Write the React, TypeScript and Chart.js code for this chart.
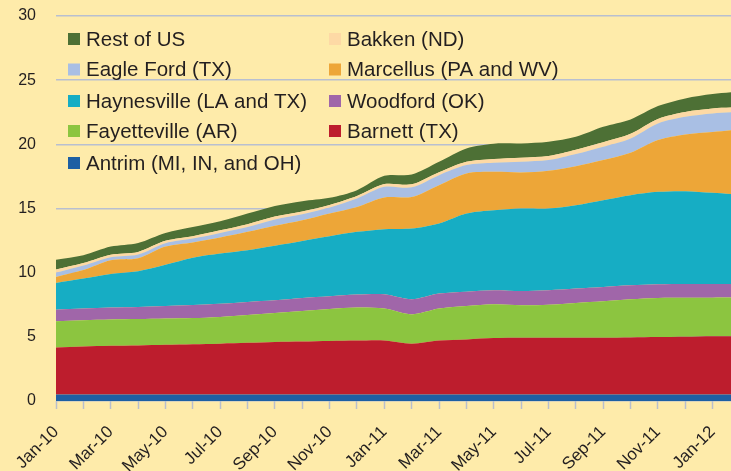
import { useEffect, useRef } from "react";
import { Chart, registerables } from "chart.js";

Chart.register(...registerables);

const months = [
  "Jan-10", "Feb-10", "Mar-10", "Apr-10", "May-10", "Jun-10", "Jul-10", "Aug-10", "Sep-10", "Oct-10", "Nov-10", "Dec-10",
  "Jan-11", "Feb-11", "Mar-11", "Apr-11", "May-11", "Jun-11", "Jul-11", "Aug-11", "Sep-11", "Oct-11", "Nov-11", "Dec-11",
  "Jan-12", "Feb-12",
];

const antrim = [0.5, 0.5, 0.5, 0.5, 0.5, 0.5, 0.5, 0.5, 0.5, 0.5, 0.5, 0.5, 0.5, 0.5, 0.5, 0.5, 0.5, 0.5, 0.5, 0.5, 0.5, 0.5, 0.5, 0.5, 0.5, 0.5];
const barnett = [3.67, 3.75, 3.8, 3.83, 3.88, 3.92, 3.97, 4.03, 4.1, 4.14, 4.18, 4.21, 4.22, 3.97, 4.22, 4.3, 4.4, 4.43, 4.43, 4.43, 4.43, 4.45, 4.48, 4.5, 4.54, 4.54];
const fayetteville = [2.05, 2.05, 2.05, 2.05, 2.04, 2.04, 2.08, 2.17, 2.26, 2.37, 2.49, 2.57, 2.48, 2.28, 2.48, 2.6, 2.63, 2.53, 2.57, 2.71, 2.84, 2.98, 3.05, 3.05, 3.01, 3.02];
const woodford = [0.9, 0.9, 0.93, 0.95, 0.98, 1.02, 1.03, 1.02, 0.99, 1.02, 0.99, 1.01, 1.12, 1.18, 1.17, 1.12, 1.1, 1.11, 1.13, 1.12, 1.12, 1.09, 1.07, 1.07, 1.07, 1.06];
const haynesville = [2.08, 2.34, 2.62, 2.79, 3.22, 3.69, 3.91, 4.03, 4.25, 4.44, 4.68, 4.89, 5.07, 5.51, 5.46, 6.09, 6.24, 6.43, 6.37, 6.5, 6.76, 7.02, 7.2, 7.23, 7.1, 6.95];
const marcellus = [0.47, 0.66, 1.07, 1.0, 1.41, 1.19, 1.25, 1.43, 1.56, 1.62, 1.77, 1.94, 2.47, 2.46, 2.99, 3.12, 2.99, 2.81, 2.94, 3.04, 3.12, 3.3, 4.03, 4.42, 4.75, 5.1];
const eagleFord = [0.33, 0.35, 0.23, 0.3, 0.27, 0.3, 0.36, 0.38, 0.49, 0.46, 0.47, 0.66, 0.83, 0.75, 0.78, 0.65, 0.7, 0.83, 0.83, 0.94, 1.04, 1.12, 1.3, 1.38, 1.44, 1.36];
const bakken = [0.25, 0.2, 0.2, 0.2, 0.18, 0.18, 0.2, 0.22, 0.22, 0.22, 0.2, 0.2, 0.21, 0.23, 0.22, 0.26, 0.3, 0.32, 0.32, 0.34, 0.35, 0.36, 0.35, 0.37, 0.38, 0.36];
const restOfUS = [0.75, 0.6, 0.63, 0.7, 0.62, 0.71, 0.71, 0.83, 0.83, 0.8, 0.55, 0.45, 0.65, 0.77, 0.82, 1.04, 1.19, 1.11, 1.11, 1.01, 1.21, 1.12, 1.0, 1.06, 1.13, 1.23];

const yTicks = [0, 5, 10, 15, 20, 25, 30];

// stacking order bottom -> top
const seriesNames = [
  "Antrim (MI, IN, and OH)",
  "Barnett (TX)",
  "Fayetteville (AR)",
  "Woodford (OK)",
  "Haynesville (LA and TX)",
  "Marcellus (PA and WV)",
  "Eagle Ford (TX)",
  "Bakken (ND)",
  "Rest of US",
];
const seriesValues = [antrim, barnett, fayetteville, woodford, haynesville, marcellus, eagleFord, bakken, restOfUS];
const seriesColors = ["#1d5fa3", "#bd1d2d", "#8cc540", "#a066a9", "#16adc4", "#eda638", "#a9bfe4", "#fdd9a5", "#4d7035"];

// legend order (row-major, two columns)
const legendOrder = [
  "Rest of US", "Bakken (ND)",
  "Eagle Ford (TX)", "Marcellus (PA and WV)",
  "Haynesville (LA and TX)", "Woodford (OK)",
  "Fayetteville (AR)", "Barnett (TX)",
  "Antrim (MI, IN, and OH)",
];

const BG = "#feebaa";
const FONT = "'Liberation Sans', Arial, Helvetica, sans-serif";

export default function App() {
  const ref = useRef<HTMLCanvasElement | null>(null);

  useEffect(() => {
    document.body.style.margin = "0";
    document.body.style.background = BG;
    if (!ref.current) return;

    const bgPlugin = {
      id: "bg",
      beforeDraw(chart: any) {
        const { ctx, width, height } = chart;
        ctx.save();
        ctx.fillStyle = BG;
        ctx.fillRect(0, 0, width, height);
        ctx.restore();
      },
    };

    const legendPlugin = {
      id: "customLegend",
      afterDatasetsDraw(chart: any) {
        const { ctx } = chart;
        ctx.save();
        ctx.font = `20.5px ${FONT}`;
        ctx.textBaseline = "middle";
        ctx.textAlign = "left";
        const colX = [68, 329];
        const rowY = [39, 69.5, 101, 131, 163];
        legendOrder.forEach((name, i) => {
          const col = i % 2;
          const row = Math.floor(i / 2);
          const idx = seriesNames.indexOf(name);
          const x = colX[col];
          const y = rowY[row];
          ctx.fillStyle = seriesColors[idx];
          ctx.fillRect(x, y - 6, 12, 12);
          ctx.fillStyle = "#231f20";
          ctx.fillText(name, x + 18, y + 1);
        });
        ctx.restore();
      },
    };

    const chart = new Chart(ref.current, {
      type: "line",
      data: {
        datasets: seriesValues.map((vals, si) => ({
          label: seriesNames[si],
          data: vals.map((v, i) => ({ x: i, y: v })),
          backgroundColor: seriesColors[si],
          borderColor: seriesColors[si],
          borderWidth: 0,
          pointRadius: 0,
          fill: si === 0 ? "origin" : "-1",
          tension: 0.3,
        })),
      },
      options: {
        animation: false,
        responsive: true,
        maintainAspectRatio: false,
        layout: { padding: { top: 16, right: 0, bottom: 0, left: 0 } },
        plugins: {
          legend: { display: false },
          tooltip: { enabled: false },
        },
        scales: {
          x: {
            type: "linear",
            min: 0,
            max: 24.67,
            border: { display: false },
            grid: {
              drawOnChartArea: false,
              drawTicks: true,
              tickLength: 8,
              tickColor: "#b9bfcc",
              tickWidth: 1.5,
            },
            ticks: {
              stepSize: 1,
              includeBounds: false,
              autoSkip: false,
              maxRotation: 45,
              minRotation: 45,
              padding: 13,
              color: "#231f20",
              font: { family: FONT, size: 17 },
              callback: (v: any) => {
                const n = Number(v);
                return Number.isInteger(n) && n % 2 === 0 ? months[n] : "";
              },
            },
            afterFit: (scale: any) => {
              scale.height = 70;
              scale.paddingLeft = 0;
              scale.paddingRight = 0;
            },
          },
          y: {
            stacked: true,
            min: 0,
            max: 30,
            border: { display: false },
            grid: {
              color: "#b8bfd0",
              lineWidth: 1.6,
              drawTicks: false,
            },
            afterBuildTicks: (scale: any) => {
              scale.ticks = yTicks.map((v) => ({ value: v }));
            },
            ticks: {
              padding: 20,
              color: "#231f20",
              font: { family: FONT, size: 16 },
            },
            afterFit: (scale: any) => {
              scale.width = 56;
              scale.paddingTop = 0;
              scale.paddingBottom = 0;
            },
          },
        },
      },
      plugins: [bgPlugin, legendPlugin],
    });

    return () => chart.destroy();
  }, []);

  return (
    <div style={{ width: 731, height: 471, position: "relative", background: BG }}>
      <canvas ref={ref} />
    </div>
  );
}
